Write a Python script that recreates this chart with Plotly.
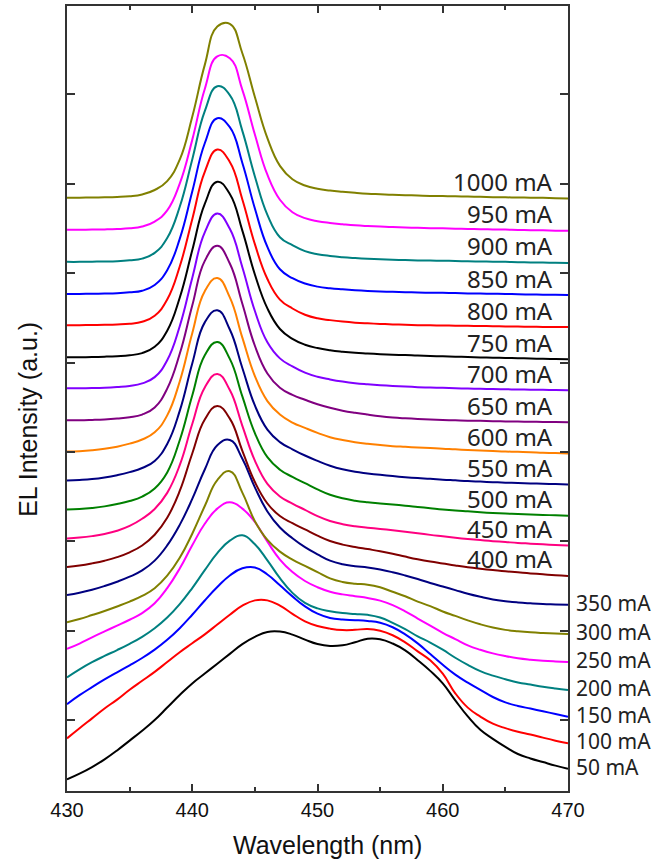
import plotly.graph_objects as go

# Wavelength grid (nm), 1 nm step
wavelength = list(range(430, 471))

currents = [50, 100, 150, 200, 250, 300, 350, 400, 450, 500,
            550, 600, 650, 700, 750, 800, 850, 900, 950, 1000]

# Normalized EL spectra (peak = 1), 430..470 nm
I50 = [0.168, 0.20, 0.237, 0.28, 0.33, 0.385, 0.44, 0.50, 0.57, 0.64,
       0.705, 0.76, 0.815, 0.87, 0.925, 0.965, 0.993, 0.995, 0.978, 0.95,
       0.925, 0.914, 0.918, 0.935, 0.955, 0.952, 0.928, 0.89, 0.835, 0.775,
       0.705, 0.61, 0.52, 0.445, 0.395, 0.35, 0.31, 0.285, 0.265, 0.245,
       0.228]
I100 = [0.218, 0.275, 0.33, 0.385, 0.435, 0.49, 0.54, 0.59, 0.645, 0.70,
        0.75, 0.80, 0.855, 0.91, 0.96, 0.99, 0.99, 0.96, 0.915, 0.873,
        0.847, 0.832, 0.824, 0.825, 0.83, 0.82, 0.795, 0.755, 0.705, 0.655,
        0.58, 0.47, 0.39, 0.34, 0.30, 0.275, 0.255, 0.24, 0.222, 0.205,
        0.19]
I150 = [0.23, 0.28, 0.325, 0.368, 0.408, 0.447, 0.488, 0.535, 0.59, 0.655,
        0.73, 0.81, 0.885, 0.95, 0.99, 0.995, 0.955, 0.895, 0.833, 0.777,
        0.736, 0.712, 0.703, 0.70, 0.695, 0.685, 0.66, 0.62, 0.57, 0.51,
        0.45, 0.395, 0.35, 0.31, 0.27, 0.24, 0.22, 0.205, 0.19, 0.175,
        0.16]
I200 = [0.20, 0.245, 0.285, 0.32, 0.353, 0.388, 0.427, 0.475, 0.535, 0.61,
        0.70, 0.80, 0.895, 0.965, 0.995, 0.945, 0.855, 0.755, 0.673, 0.617,
        0.586, 0.57, 0.56, 0.555, 0.55, 0.535, 0.505, 0.47, 0.43, 0.395,
        0.355, 0.31, 0.27, 0.235, 0.21, 0.19, 0.172, 0.16, 0.148, 0.138,
        0.129]
I250 = [0.18, 0.21, 0.245, 0.278, 0.31, 0.343, 0.38, 0.435, 0.52, 0.63,
        0.76, 0.88, 0.965, 1.0, 0.965, 0.89, 0.78, 0.68, 0.61, 0.56,
        0.525, 0.50, 0.485, 0.475, 0.465, 0.45, 0.425, 0.39, 0.35, 0.31,
        0.27, 0.235, 0.20, 0.175, 0.155, 0.14, 0.128, 0.12, 0.114, 0.11,
        0.107]
I300 = [0.15, 0.168, 0.19, 0.213, 0.238, 0.265, 0.297, 0.34, 0.41, 0.51,
        0.645, 0.80, 0.945, 0.995, 0.875, 0.715, 0.61, 0.545, 0.50, 0.465,
        0.43, 0.395, 0.375, 0.365, 0.36, 0.345, 0.32, 0.295, 0.265, 0.24,
        0.21, 0.185, 0.16, 0.138, 0.12, 0.107, 0.099, 0.093, 0.089, 0.086,
        0.084]
I350 = [0.122, 0.135, 0.152, 0.173, 0.197, 0.225, 0.26, 0.315, 0.40, 0.515,
        0.66, 0.825, 0.96, 0.99, 0.885, 0.725, 0.59, 0.50, 0.44, 0.39,
        0.35, 0.315, 0.295, 0.284, 0.276, 0.265, 0.25, 0.232, 0.212, 0.19,
        0.17, 0.15, 0.13, 0.113, 0.098, 0.088, 0.081, 0.076, 0.072, 0.07,
        0.068]
I400 = [0.10, 0.108, 0.12, 0.135, 0.155, 0.182, 0.22, 0.28, 0.375, 0.525,
        0.735, 0.925, 1.0, 0.93, 0.75, 0.575, 0.455, 0.385, 0.345, 0.31,
        0.275, 0.245, 0.225, 0.212, 0.20, 0.188, 0.174, 0.158, 0.143, 0.13,
        0.119, 0.108, 0.098, 0.09, 0.083, 0.076, 0.07, 0.064, 0.059, 0.054,
        0.05]
I450 = [0.08, 0.085, 0.093, 0.105, 0.123, 0.15, 0.19, 0.245, 0.335, 0.49,
        0.72, 0.925, 1.0, 0.91, 0.71, 0.515, 0.385, 0.315, 0.275, 0.24,
        0.205, 0.178, 0.16, 0.148, 0.14, 0.133, 0.126, 0.118, 0.109, 0.10,
        0.092, 0.084, 0.077, 0.071, 0.065, 0.06, 0.055, 0.051, 0.047, 0.043,
        0.04]
I500 = [0.062, 0.065, 0.071, 0.08, 0.093, 0.11, 0.135, 0.18, 0.27, 0.45,
        0.70, 0.925, 1.0, 0.905, 0.695, 0.49, 0.355, 0.285, 0.245, 0.21,
        0.175, 0.145, 0.125, 0.112, 0.103, 0.096, 0.09, 0.084, 0.077, 0.07,
        0.063, 0.057, 0.052, 0.047, 0.043, 0.04, 0.037, 0.034, 0.032, 0.03,
        0.028]
I550 = [0.045, 0.048, 0.053, 0.062, 0.075, 0.092, 0.115, 0.155, 0.25, 0.435,
        0.70, 0.93, 0.998, 0.89, 0.675, 0.465, 0.33, 0.26, 0.22, 0.185,
        0.155, 0.128, 0.108, 0.094, 0.085, 0.077, 0.07, 0.064, 0.059, 0.055,
        0.05, 0.046, 0.042, 0.039, 0.036, 0.033, 0.031, 0.029, 0.027, 0.025,
        0.023]
I600 = [0.028, 0.03, 0.035, 0.043, 0.055, 0.072, 0.095, 0.135, 0.23, 0.42,
        0.69, 0.925, 0.998, 0.89, 0.665, 0.45, 0.31, 0.235, 0.19, 0.16,
        0.132, 0.108, 0.092, 0.08, 0.071, 0.064, 0.058, 0.054, 0.05, 0.047,
        0.044, 0.04, 0.037, 0.034, 0.031, 0.028, 0.026, 0.024, 0.021, 0.019,
        0.017]
I650 = [0.023, 0.023, 0.025, 0.028, 0.033, 0.04, 0.055, 0.095, 0.20, 0.395,
        0.665, 0.915, 0.999, 0.90, 0.675, 0.44, 0.285, 0.205, 0.165, 0.138,
        0.113, 0.093, 0.077, 0.065, 0.055, 0.046, 0.039, 0.034, 0.03, 0.027,
        0.025, 0.023, 0.021, 0.02, 0.018, 0.017, 0.016, 0.015, 0.014, 0.013,
        0.012]
I700 = [0.023, 0.023, 0.024, 0.026, 0.03, 0.036, 0.05, 0.085, 0.18, 0.37,
        0.64, 0.895, 1.0, 0.915, 0.70, 0.455, 0.28, 0.19, 0.145, 0.11,
        0.087, 0.072, 0.06, 0.051, 0.045, 0.04, 0.036, 0.032, 0.029, 0.027,
        0.025, 0.023, 0.021, 0.02, 0.018, 0.017, 0.016, 0.015, 0.014, 0.013,
        0.012]
I750 = [0.017, 0.017, 0.018, 0.02, 0.023, 0.028, 0.04, 0.075, 0.165, 0.35,
        0.615, 0.875, 0.999, 0.93, 0.725, 0.48, 0.29, 0.175, 0.12, 0.087,
        0.068, 0.056, 0.048, 0.042, 0.038, 0.034, 0.031, 0.029, 0.026, 0.024,
        0.022, 0.02, 0.018, 0.016, 0.014, 0.013, 0.011, 0.01, 0.008, 0.007,
        0.006]
I800 = [0.017, 0.017, 0.018, 0.019, 0.021, 0.025, 0.036, 0.07, 0.16, 0.345,
        0.61, 0.875, 0.999, 0.93, 0.72, 0.47, 0.275, 0.16, 0.11, 0.075,
        0.055, 0.045, 0.037, 0.031, 0.027, 0.024, 0.021, 0.019, 0.017, 0.016,
        0.015, 0.014, 0.013, 0.012, 0.011, 0.01, 0.009, 0.008, 0.007, 0.0065,
        0.006]
I850 = [0.012, 0.012, 0.013, 0.014, 0.016, 0.021, 0.03, 0.062, 0.145, 0.32,
        0.585, 0.855, 0.995, 0.945, 0.745, 0.49, 0.275, 0.15, 0.10, 0.07,
        0.053, 0.044, 0.038, 0.033, 0.029, 0.026, 0.024, 0.022, 0.02, 0.019,
        0.018, 0.017, 0.015, 0.014, 0.013, 0.012, 0.01, 0.009, 0.008, 0.007,
        0.006]
I900 = [0.012, 0.012, 0.013, 0.014, 0.016, 0.021, 0.03, 0.062, 0.145, 0.32,
        0.585, 0.855, 0.995, 0.945, 0.745, 0.49, 0.275, 0.15, 0.105, 0.072,
        0.055, 0.045, 0.038, 0.033, 0.029, 0.026, 0.024, 0.022, 0.02, 0.019,
        0.018, 0.017, 0.015, 0.014, 0.013, 0.012, 0.01, 0.009, 0.008, 0.007,
        0.006]
I950 = [0.012, 0.012, 0.013, 0.014, 0.016, 0.02, 0.03, 0.058, 0.12, 0.27,
        0.515, 0.80, 0.982, 0.972, 0.795, 0.545, 0.32, 0.18, 0.11, 0.077,
        0.06, 0.05, 0.043, 0.037, 0.033, 0.03, 0.027, 0.025, 0.023, 0.021,
        0.02, 0.018, 0.017, 0.015, 0.014, 0.013, 0.011, 0.01, 0.009, 0.007,
        0.006]
I1000 = [0.012, 0.012, 0.013, 0.014, 0.016, 0.02, 0.03, 0.055, 0.105, 0.225,
         0.465, 0.755, 0.97, 0.985, 0.82, 0.575, 0.345, 0.19, 0.115, 0.08,
         0.062, 0.052, 0.045, 0.039, 0.034, 0.031, 0.028, 0.026, 0.024, 0.022,
         0.021, 0.02, 0.018, 0.017, 0.015, 0.014, 0.013, 0.012, 0.011, 0.009,
         0.008]

spectra = [I50, I100, I150, I200, I250, I300, I350, I400, I450, I500,
           I550, I600, I650, I700, I750, I800, I850, I900, I950, I1000]

colors = ["#000000", "#FF0000", "#0000FF", "#008080", "#FF00FF", "#808000",
          "#000080", "#800000", "#FF0080", "#008000", "#000080", "#FF8000",
          "#800080", "#8000FF", "#000000", "#FF0000", "#0000FF", "#008080",
          "#FF00FF", "#808000"]

OFFSET = 0.1795  # vertical stacking step between spectra

fig = go.Figure()
annotations = []
for i, (cur, spec, col) in enumerate(zip(currents, spectra, colors)):
    y = [v + i * OFFSET for v in spec]
    fig.add_trace(go.Scatter(x=wavelength, y=y, mode="lines",
                             line=dict(color=col, width=2, shape="spline", smoothing=1.3),
                             showlegend=False, hoverinfo="skip"))
    if cur >= 400:
        annotations.append(dict(x=469, y=y[-1], xref="x", yref="y", text=f"{cur} mA",
                                showarrow=False, xanchor="right", yanchor="middle", yshift=17,
                                font=dict(family="Noto Sans", size=24, color="#222")))
    else:
        annotations.append(dict(x=470, y=y[-1], xref="x", yref="y", text=f"{cur} mA",
                                showarrow=False, xanchor="left", yanchor="middle", xshift=6, yshift=2,
                                font=dict(family="Noto Sans", size=21, color="#222")))

# axis titles
annotations.append(dict(x=-0.078, y=0.474, xref="paper", yref="paper", text="EL Intensity (a.u.)",
                        textangle=-90, showarrow=False, xanchor="center", yanchor="middle",
                        font=dict(family="Liberation Sans, Arial", size=25, color="#111")))
annotations.append(dict(x=0.519, y=-0.069, xref="paper", yref="paper", text="Wavelength (nm)",
                        showarrow=False, xanchor="center", yanchor="middle",
                        font=dict(family="Liberation Sans, Arial", size=25, color="#111")))

fig.update_layout(
    width=668, height=862,
    margin=dict(l=67, r=100, t=4, b=71),
    paper_bgcolor="white", plot_bgcolor="white",
    showlegend=False,
    annotations=annotations,
    xaxis=dict(range=[430, 470], tickmode="array", tickvals=[430, 440, 450, 460, 470],
               ticks="inside", ticklen=7, tickwidth=1.5, tickcolor="#333",
               minor=dict(ticks="inside", ticklen=4, tickwidth=1.5, tickcolor="#333",
                          tickvals=[435, 445, 455, 465]),
               showline=True, linewidth=2, linecolor="#333", mirror="ticks",
               showgrid=False, zeroline=False,
               tickfont=dict(family="Liberation Sans, Arial", size=20, color="#111")),
    yaxis=dict(range=[0.103, 4.495], tick0=0, dtick=0.5,
               ticks="inside", ticklen=8, tickwidth=1.5, tickcolor="#333",
               showticklabels=False,
               showline=True, linewidth=2, linecolor="#333", mirror="ticks",
               showgrid=False, zeroline=False),
)

fig.write_html("out.html")
